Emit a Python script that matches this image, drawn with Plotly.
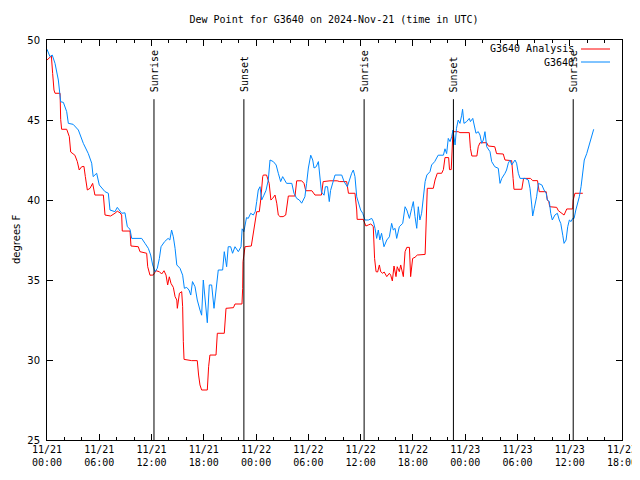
import pandas as pd
import plotly.graph_objects as go

start = pd.Timestamp("2024-11-21 00:00")

# G3640 observations: hours since 11/21 00:00 UTC and dew point (F)
obs_hours = [0.0, 0.34, 0.6, 0.92, 1.3, 1.57, 1.88, 2.26, 2.45, 3.0, 3.6, 4.17, 4.74, 5.13, 5.3, 5.7, 6.0,
             6.66, 7.04, 7.23, 7.8, 8.07, 8.57, 8.95, 9.22, 9.53, 9.72, 10.87, 11.25, 11.63, 11.9, 12.13,
             12.4, 12.66, 12.9, 13.09, 13.5, 13.9, 14.1, 14.3, 14.5, 14.7, 14.9, 15.27, 15.57, 15.77, 16.03,
             16.3, 16.5, 16.7, 16.99, 17.25, 17.56, 17.75, 17.94, 18.17, 18.4, 18.63, 18.9, 19.17, 19.47,
             19.66, 20.16, 20.35, 20.62, 20.8, 21.08, 21.3, 21.58, 21.96, 22.27, 22.4, 22.6, 22.9, 23.1,
             23.38, 23.68, 23.9, 24.07, 24.25, 24.45, 24.64, 24.9, 25.14, 25.4, 25.6, 25.98, 26.3, 26.55,
             26.82, 27.05, 27.24, 27.5, 28.1, 28.35, 28.66, 28.96, 29.23, 29.6, 29.8, 30.0, 30.27, 30.5,
             30.65, 30.9, 31.15, 31.3, 31.5, 31.8, 31.95, 32.2, 32.4, 32.55, 32.8, 33.06, 33.83, 34.1,
             34.47, 34.7, 34.97, 35.16, 35.35, 35.55, 35.74, 36.0, 36.24, 36.5, 36.9, 37.27, 37.46, 37.65,
             37.84, 38.03, 38.2, 38.4, 38.68, 39.0, 39.3, 39.56, 39.75, 39.95, 40.14, 40.44, 40.83, 41.1,
             41.3, 41.6, 41.86, 42.05, 42.24, 42.44, 42.62, 42.8, 43.0, 43.2, 43.4, 43.6, 43.96, 44.15,
             44.5, 44.9, 45.5, 45.68, 45.87, 46.06, 46.26, 46.45, 46.6, 46.84, 47.0, 47.2, 47.4, 47.6,
             47.7, 47.86, 48.17, 48.47, 48.6, 48.87, 49.0, 49.24, 49.5, 49.7, 49.9, 50.08, 50.27, 50.47,
             50.85, 51.04, 51.4, 51.8, 52.0, 52.2, 52.57, 52.75, 52.95, 53.15, 53.34, 53.5, 53.72, 53.9,
             54.1, 54.3, 54.87, 55.25, 55.44, 55.64, 55.75, 55.93, 56.2, 56.4, 56.8, 57.05, 57.3, 57.43,
             57.66, 57.82, 58.0, 58.3, 58.58, 58.8, 58.97, 59.2, 59.35, 59.58, 59.77, 59.96, 60.15, 60.34,
             60.5, 60.7, 60.9, 61.1, 61.3, 61.5, 61.67, 61.95, 62.25, 62.5, 62.75]
obs_values = [49.42, 48.96, 49.06, 48.54, 47.5, 46.14, 46.1, 45.52, 44.79, 44.73, 44.375, 43.54, 42.9, 42.3,
              41.46, 41.67, 40.94, 40.52, 40.42, 39.375, 39.27, 39.54, 39.17, 39.2, 38.33, 38.17, 37.6,
              37.6, 37.29, 36.98, 36.56, 35.94, 35.52, 35.73, 36.35, 37.08, 37.4, 37.6, 37.5, 38.125, 37.7,
              36.98, 35.94, 35.73, 35.3, 34.48, 34.54, 34.375, 34.06, 34.9, 34.58, 33.75, 33.125, 32.8,
              35.0, 33.54, 32.33, 34.69, 34.69, 33.23, 35.0, 35.625, 35.625, 36.77, 35.83, 37.08, 37.08,
              36.67, 37.08, 36.77, 37.08, 38.2, 38.02, 38.9, 38.85, 39.17, 39.06, 39.27, 39.9, 40.625,
              40.83, 40.0, 40.3, 40.6, 41.25, 42.5, 42.4, 42.19, 41.67, 41.15, 41.46, 41.25, 41.04, 41.04,
              40.42, 40.1, 40.0, 39.8, 40.2, 41.04, 42.0, 42.8, 42.5, 42.0, 42.08, 42.4, 41.67, 40.5, 40.3,
              40.83, 40.83, 39.9, 40.6, 41.04, 41.56, 41.56, 41.15, 40.83, 41.25, 41.67, 41.875, 41.46,
              40.2, 39.8, 39.375, 39.17, 38.75, 38.75, 38.85, 38.65, 38.23, 37.6, 38.125, 37.5, 37.92,
              37.08, 37.5, 37.7, 38.54, 38.125, 38.23, 37.6, 38.33, 38.54, 39.58, 39.375, 38.85, 39.48,
              39.9, 38.96, 38.23, 39.58, 38.75, 39.17, 40.42, 41.15, 41.56, 41.77, 42.19, 42.4, 42.8, 42.8,
              43.2, 42.9, 43.85, 43.65, 43.95, 44.375, 43.44, 44.48, 45.0, 44.79, 45.3, 45.67, 44.79, 44.9,
              45.1, 44.9, 45.1, 44.79, 44.17, 44.27, 44.06, 43.54, 43.75, 44.27, 43.33, 43.02, 42.4, 42.08,
              41.98, 41.04, 41.35, 41.67, 41.875, 42.3, 42.5, 42.19, 42.3, 42.5, 42.3, 41.67, 41.35, 41.35,
              41.25, 40.73, 39.69, 39.0, 39.48, 40.2, 41.04, 40.94, 40.625, 40.42, 40.0, 39.9, 39.17, 38.75,
              39.06, 39.17, 38.75, 38.54, 37.8, 37.29, 37.5, 38.33, 38.75, 38.65, 38.85, 38.85, 39.375,
              39.8, 40.2, 40.83, 41.77, 42.5, 42.9, 43.44, 43.85, 44.42]

# G3640 Analysis
ana_hours = [0.0, 0.34, 0.5, 0.65, 0.8, 0.92, 1.5, 1.57, 1.68, 2.26, 2.56, 2.72, 3.2, 3.48, 3.7, 3.98, 4.24,
             4.4, 4.63, 4.94, 5.24, 5.5, 6.47, 6.66, 7.3, 7.8, 8.07, 8.38, 8.57, 8.64, 9.53, 9.64, 10.48,
             10.67, 11.44, 11.56, 11.82, 12.2, 12.5, 12.9, 13.16, 13.43, 13.66, 13.85, 14.04, 14.23, 14.5,
             14.7, 14.9, 14.96, 15.2, 15.46, 15.57, 15.65, 15.73, 16.6, 17.25, 17.4, 17.56, 17.75, 18.4,
             18.55, 18.7, 19.4, 19.55, 20.35, 20.55, 21.4, 21.58, 22.38, 22.46, 22.5, 22.73, 23.45, 23.68,
             23.87, 24.07, 24.37, 24.53, 24.76, 24.83, 25.2, 25.35, 25.5, 25.7, 25.9, 26.17, 26.37, 26.55,
             26.75, 27.1, 27.4, 27.7, 28.47, 28.66, 29.23, 29.5, 29.7, 30.4, 30.6, 30.76, 31.5, 31.7, 32.48,
             33.3, 33.6, 34.4, 34.6, 35.35, 35.55, 35.6, 36.3, 36.5, 36.6, 36.88, 37.15, 37.3, 37.45, 37.6,
             37.77, 37.95, 38.15, 38.3, 38.53, 38.7, 39.0, 39.3, 39.45, 39.64, 39.83, 40.06, 40.2, 40.44,
             40.6, 40.9, 41.1, 41.3, 41.6, 41.74, 41.86, 41.97, 42.24, 42.5, 43.4, 43.5, 43.65, 44.34,
             44.54, 44.8, 45.3, 45.5, 45.68, 46.1, 46.2, 46.4, 46.45, 46.55, 46.6, 47.2, 47.4, 48.47, 48.6,
             48.77, 49.34, 49.5, 49.7, 50.47, 50.66, 51.4, 51.6, 52.37, 52.57, 53.34, 53.5, 53.6, 54.5,
             54.7, 55.5, 55.75, 56.3, 56.5, 57.3, 57.43, 57.6, 57.7, 58.5, 58.7, 59.35, 59.66, 60.34, 60.4,
             60.6, 61.5]
ana_values = [48.75, 48.9, 49.0, 47.9, 46.875, 46.67, 46.67, 45.04, 44.42, 44.42, 43.96, 43.0, 42.8, 42.4,
              41.875, 42.08, 42.1, 41.46, 40.625, 40.73, 41.04, 40.31, 40.31, 39.06, 39.0, 39.17, 39.3,
              39.2, 39.06, 38.06, 38.06, 37.125, 37.08, 36.77, 36.67, 35.83, 35.3, 35.31, 35.58, 35.52,
              35.375, 35.58, 35.31, 34.69, 35.2, 34.79, 34.54, 33.96, 33.75, 33.23, 34.17, 34.27, 33.33,
              31.15, 30.04, 29.96, 29.96, 29.06, 28.44, 28.125, 28.125, 29.58, 30.31, 30.31, 31.67, 31.67,
              33.23, 33.27, 33.5, 33.5, 34.48, 36.15, 37.08, 37.125, 38.0, 38.6, 39.27, 39.27, 40.0, 41.46,
              41.56, 41.56, 41.3, 41.04, 40.0, 40.1, 40.31, 39.8, 39.06, 38.96, 38.96, 39.06, 40.25, 40.25,
              41.2, 41.2, 41.04, 40.58, 40.58, 40.46, 40.31, 40.31, 41.15, 41.2, 41.2, 41.15, 41.15, 40.42,
              40.42, 39.375, 38.79, 38.79, 38.54, 38.375, 38.44, 38.5, 38.44, 38.33, 36.35, 35.52, 35.5,
              35.94, 35.52, 35.42, 35.5, 35.21, 35.42, 35.3, 34.94, 35.875, 35.21, 35.83, 35.52, 35.94,
              35.21, 36.77, 37.04, 37.04, 35.21, 36.04, 36.35, 36.42, 36.56, 36.6, 38.75, 40.73, 40.73,
              41.25, 41.67, 41.67, 41.9, 42.65, 42.65, 41.9, 41.9, 43.0, 43.75, 44.27, 44.27, 44.21, 44.21,
              43.23, 42.75, 42.75, 43.33, 43.58, 43.58, 43.375, 43.33, 42.9, 42.875, 42.5, 42.46, 41.35,
              40.67, 40.67, 41.35, 41.35, 41.21, 41.21, 40.52, 40.52, 40.0, 39.9, 39.58, 39.54, 39.33,
              39.06, 39.44, 39.44, 40.0, 40.42, 40.42]

# Sunrise / sunset events (hours since 11/21 00:00 UTC)
event_hours = [12.28, 22.6, 36.4, 46.65, 60.4]
event_labels = ["Sunrise", "Sunset", "Sunrise", "Sunset", "Sunrise"]
event_top = 46.3

series_names = ["G3640 Analysis", "G3640"]
series_colors = ["#ff0000", "#0088ff"]


def to_time(hours):
    return [start + pd.Timedelta(hours=h) for h in hours]


fig = go.Figure()
fig.add_trace(go.Scatter(x=to_time(ana_hours), y=ana_values, mode="lines",
                         line=dict(color=series_colors[0], width=1), name=series_names[0]))
fig.add_trace(go.Scatter(x=to_time(obs_hours), y=obs_values, mode="lines",
                         line=dict(color=series_colors[1], width=1), name=series_names[1]))

for h, lab in zip(event_hours, event_labels):
    t = start + pd.Timedelta(hours=h)
    fig.add_shape(type="line", x0=t, x1=t, y0=25, y1=event_top, xref="x", yref="y",
                  line=dict(color="black", width=1), layer="above")
    fig.add_annotation(x=t, y=event_top, xref="x", yref="y", text=lab, showarrow=False,
                       textangle=-90, xanchor="center", yanchor="bottom", yshift=5,
                       font=dict(family="DejaVu Sans Mono", size=10, color="black"))

# page body has an 8px margin; figure geometry compensates for it
OFF = 8
FW, FH = 632, 472
ML, MR, MT, MB = 47 - OFF, OFF + FW - 622, 40 - OFF, OFF + FH - 440
W, H = 575.0, 400.0

# manual legend (top right, text right-aligned, sample to the right)
legend_rows = [49, 62]
for name, color, py in zip(series_names, series_colors, legend_rows):
    yp = (440 - py) / H
    fig.add_annotation(x=(576 - 47) / W, y=yp, xref="paper", yref="paper", text=name,
                       showarrow=False, xanchor="right", yanchor="middle",
                       font=dict(family="DejaVu Sans Mono", size=10, color="black"))
    fig.add_shape(type="line", x0=(581 - 47) / W, x1=(610 - 47) / W, y0=yp, y1=yp,
                  xref="paper", yref="paper", line=dict(color=color, width=1))

fig.add_annotation(x=(16 - 47) / W, y=0.5, xref="paper", yref="paper", text="degrees F",
                   showarrow=False, textangle=-90, xanchor="center", yanchor="middle",
                   font=dict(family="DejaVu Sans", size=10, color="black"))

fig.update_layout(
    width=FW, height=FH,
    margin=dict(l=ML, r=MR, t=MT, b=MB, autoexpand=False),
    paper_bgcolor="white", plot_bgcolor="white",
    showlegend=False,
    title=dict(text="Dew Point for G3640 on 2024-Nov-21 (time in UTC)", x=(334 - OFF) / FW, xanchor="center",
               y=1 - (19 - OFF) / FH, yanchor="middle",
               font=dict(family="DejaVu Sans Mono", size=10, color="black")),
    xaxis=dict(range=[start, start + pd.Timedelta(hours=66)], type="date",
               dtick=6 * 3600 * 1000, tick0=start, tickformat="%m/%d<br>%H:%M",
               ticks="inside", ticklen=6, tickcolor="black", tickwidth=1,
               minor=dict(dtick=2 * 3600 * 1000, ticks="inside", ticklen=3, tickcolor="black"),
               showline=True, linecolor="black", linewidth=1, mirror="allticks",
               showgrid=False, zeroline=False,
               tickfont=dict(family="DejaVu Sans Mono", size=10, color="black")),
    yaxis=dict(range=[25, 50], dtick=5, tick0=25,
               ticks="inside", ticklen=6, tickcolor="black", tickwidth=1,
               showline=True, linecolor="black", linewidth=1, mirror="allticks",
               showgrid=False, zeroline=False, ticklabelstandoff=4,
               tickfont=dict(family="DejaVu Sans", size=10, color="black")),
)

fig.write_html("out.html")
